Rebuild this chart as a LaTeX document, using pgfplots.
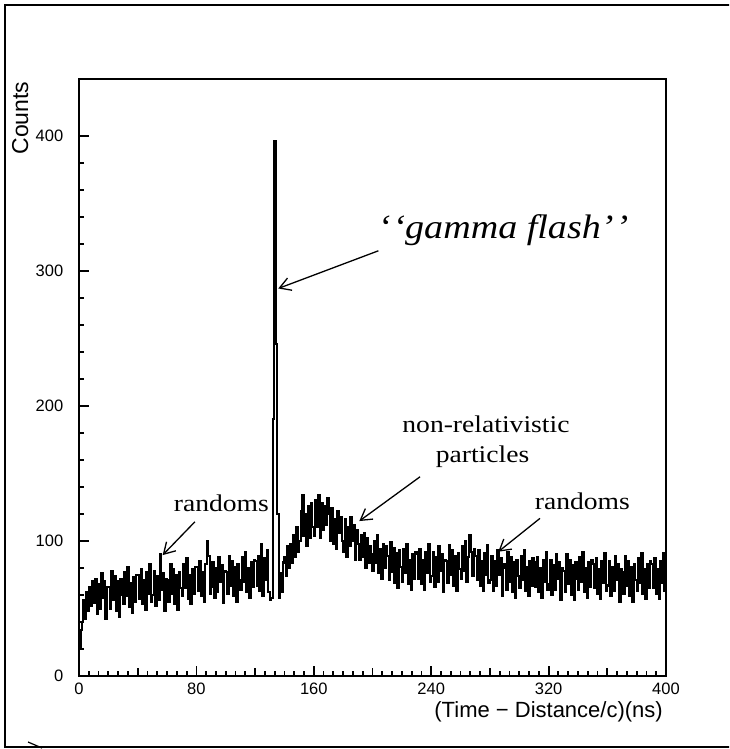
\documentclass[border=0pt]{standalone}
\usepackage{fontspec}
\usepackage{pgfplots}
\pgfplotsset{compat=1.18}
\usetikzlibrary{arrows.meta}
\setmainfont{Liberation Serif}
\newfontfamily\sans{Liberation Sans}
\newfontfamily\annot{Liberation Serif}[FakeStretch=1.15]
\newfontfamily\annotit{Liberation Serif}[FakeStretch=1.12]
\begin{document}
\begin{tikzpicture}
\useasboundingbox (0pt,0pt) rectangle (729pt,749pt);
\begin{scope}
\clip (0pt,0pt) rectangle (729pt,749pt);
\draw[line width=1.6pt] (740pt,744pt) -- (5pt,744pt) -- (5pt,2pt) -- (740pt,2pt);
\draw[line width=1.2pt] (28pt,7pt) -- (42pt,1pt);
\end{scope}
\begin{axis}[
  at={(79pt,73pt)}, anchor=south west,
  scale only axis, width=587pt, height=597pt,
  xmin=0, xmax=400, ymin=0, ymax=442,
  every axis/.append style={line width=1.6pt},
  tick align=inside, xtick pos=bottom, ytick pos=left,
  xtick={0,80,...,400}, minor x tick num=11,
  ytick={0,100,...,400}, minor y tick num=4,
  major tick length=10pt, minor tick length=4.5pt,
  every tick/.append style={line width=1.8pt, black},
  /pgf/number format/assume math mode=true,
  ticklabel style={font=\sans\fontsize{16.5}{18}\selectfont},
  yticklabel style={inner sep=0pt, xshift=-15pt},
  xticklabel style={inner sep=0pt, yshift=-6pt},
  scaled ticks=false,
]
\addplot[const plot, line width=2.1pt, black] coordinates {
(0,20)(1,34)(2,40)(3,56)(4,42)(5,62)(6,48)(7,66)(8,52)(9,70)
(10,54)(11,72)(12,46)(13,68)(14,50)(15,76)(16,58)(17,70)(18,42)(19,66)
(20,66)(21,50)(22,78)(23,56)(24,74)(25,48)(26,70)(27,44)(28,72)(29,60)
(30,53)(31,77)(32,59)(33,81)(34,51)(35,69)(36,47)(37,73)(38,55)(39,75)
(40,75)(41,57)(42,79)(43,53)(44,71)(45,49)(46,77)(47,61)(48,83)(49,55)
(50,60)(51,78)(52,52)(53,74)(54,56)(55,90)(56,64)(57,76)(58,48)(59,72)
(60,71)(61,55)(62,83)(63,61)(64,79)(65,53)(66,75)(67,49)(68,77)(69,65)
(70,59)(71,83)(72,65)(73,87)(74,57)(75,75)(76,53)(77,79)(78,61)(79,81)
(80,81)(81,63)(82,85)(83,59)(84,77)(85,55)(86,83)(87,100)(88,89)(89,61)
(90,66)(91,84)(92,58)(93,80)(94,62)(95,88)(96,70)(97,82)(98,54)(99,78)
(100,77)(101,61)(102,89)(103,67)(104,85)(105,59)(106,81)(107,55)(108,83)(109,71)
(110,64)(111,88)(112,70)(113,92)(114,62)(115,80)(116,58)(117,84)(118,66)(119,86)
(120,85)(121,67)(122,89)(123,63)(124,98)(125,59)(126,87)(127,71)(128,93)(129,62)
(130,56)(131,58)(132,190)(133,396)(134,246)(135,120)(136,58)(137,76)(138,62)(139,84)
(140,88)(141,74)(142,96)(143,80)(144,98)(145,84)(146,104)(147,88)(148,110)(149,92)
(150,100)(151,122)(152,134)(153,104)(154,120)(155,96)(156,126)(157,102)(158,128)(159,110)
(160,104)(161,130)(162,110)(163,134)(164,102)(165,128)(166,108)(167,126)(168,112)(169,132)
(170,120)(171,100)(172,124)(173,98)(174,116)(175,94)(176,122)(177,106)(178,118)(179,100)
(180,92)(181,116)(182,88)(183,110)(184,96)(185,118)(186,100)(187,112)(188,86)(189,108)
(190,98)(191,86)(192,104)(193,88)(194,106)(195,80)(196,102)(197,84)(198,96)(199,90)
(200,78)(201,100)(202,84)(203,104)(204,76)(205,94)(206,72)(207,98)(208,80)(209,96)
(210,89)(211,71)(212,99)(213,77)(214,95)(215,69)(216,91)(217,65)(218,93)(219,81)
(220,70)(221,94)(222,76)(223,98)(224,68)(225,86)(226,64)(227,90)(228,72)(229,92)
(230,90)(231,72)(232,94)(233,68)(234,86)(235,64)(236,92)(237,76)(238,98)(239,70)
(240,74)(241,92)(242,66)(243,88)(244,70)(245,96)(246,78)(247,90)(248,62)(249,86)
(250,85)(251,69)(252,97)(253,75)(254,93)(255,67)(256,89)(257,63)(258,91)(259,79)
(260,72)(261,96)(262,78)(263,100)(264,70)(265,88)(266,104)(267,92)(268,74)(269,94)
(270,89)(271,71)(272,93)(273,67)(274,85)(275,63)(276,91)(277,75)(278,97)(279,69)
(280,71)(281,89)(282,63)(283,85)(284,67)(285,93)(286,75)(287,87)(288,59)(289,83)
(290,80)(291,64)(292,92)(293,70)(294,88)(295,62)(296,84)(297,58)(298,86)(299,74)
(300,65)(301,89)(302,71)(303,93)(304,63)(305,81)(306,59)(307,85)(308,67)(309,87)
(310,84)(311,66)(312,88)(313,62)(314,80)(315,58)(316,86)(317,70)(318,92)(319,64)
(320,68)(321,86)(322,60)(323,82)(324,64)(325,90)(326,72)(327,84)(328,56)(329,80)
(330,78)(331,62)(332,90)(333,68)(334,86)(335,60)(336,82)(337,56)(338,84)(339,72)
(340,64)(341,88)(342,70)(343,92)(344,62)(345,80)(346,58)(347,84)(348,66)(349,86)
(350,83)(351,65)(352,87)(353,61)(354,79)(355,57)(356,85)(357,69)(358,91)(359,63)
(360,67)(361,85)(362,59)(363,81)(364,63)(365,89)(366,71)(367,83)(368,55)(369,79)
(370,77)(371,61)(372,89)(373,67)(374,85)(375,59)(376,81)(377,55)(378,83)(379,71)
(380,63)(381,87)(382,69)(383,91)(384,61)(385,79)(386,57)(387,83)(388,65)(389,85)
(390,83)(391,65)(392,87)(393,61)(394,79)(395,57)(396,85)(397,69)(398,91)(399,63)(400,63)
};
\pgfplotsinvokeforeach{40,120,200,280,360}{\draw[line width=1.8pt] (axis cs:#1,0) -- ([yshift=8pt]axis cs:#1,0);}
\tikzset{ann/.style={line width=1.3pt, -{Straight Barb[length=11pt,width=13pt,line width=1.3pt]}}}
\draw[ann] (axis cs:204,314.8) -- (axis cs:135.8,286.9);
\draw[ann] (axis cs:79,114.2) -- (axis cs:57,89.5);
\draw[ann] (axis cs:232.4,147.5) -- (axis cs:191,114.7);
\draw[ann] (axis cs:314.1,116.7) -- (axis cs:285.7,92);
\node[anchor=base west, inner sep=0pt, font=\annotit\itshape\fontsize{34}{40}\selectfont] at (axis cs:203.1,324.2) {‘\kern2pt‘gamma flash’\kern2pt’};
\node[anchor=base west, inner sep=0pt, font=\annot\fontsize{24}{28}\selectfont] at (axis cs:64.1,122.1) {randoms};
\node[anchor=base west, inner sep=0pt, font=\annot\fontsize{24}{28}\selectfont] at (axis cs:310.1,123.6) {randoms};
\node[anchor=base, inner sep=0pt, font=\annot\fontsize{24}{28}\selectfont] at (axis cs:277.3,180.6) {non-relativistic};
\node[anchor=base, inner sep=0pt, font=\annot\fontsize{24}{28}\selectfont] at (axis cs:275,158.4) {particles};
\end{axis}
\node[rotate=90, anchor=base, inner sep=0pt, font=\sans\fontsize{23}{26}\selectfont] at (28pt,631pt) {Counts};
\node[anchor=base east, inner sep=0pt, font=\sans\fontsize{22}{25}\selectfont] at (663pt,31pt) {(Time − Distance/c)(ns)};
\end{tikzpicture}
\end{document}
